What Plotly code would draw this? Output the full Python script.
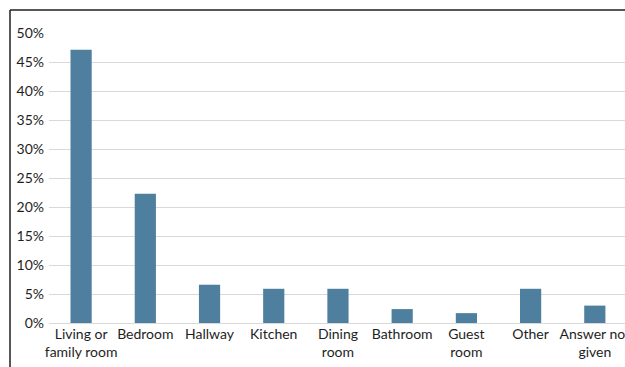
import plotly.graph_objects as go

# Where the TV is located in the home (share of respondents)
categories = [
    "Living or<br>family room",
    "Bedroom",
    "Hallway",
    "Kitchen",
    "Dining<br>room",
    "Bathroom",
    "Guest<br>room",
    "Other",
    "Answer not<br>given",
]
shares_pct = [47.1, 22.3, 6.6, 5.9, 5.9, 2.4, 1.7, 5.9, 3.0]
y_ticks_pct = [0, 5, 10, 15, 20, 25, 30, 35, 40, 45, 50]

W, H = 625, 367
M_L, M_R, M_T, M_B = 49, 0, 33, 44

fig = go.Figure(
    go.Bar(
        x=categories,
        y=[v / 100 for v in shares_pct],
        marker=dict(color="#4e7f9e", line=dict(width=0)),
        hoverinfo="skip",
    )
)

# outer frame of the chart area: left and top edges
plot_w = W - M_L - M_R
plot_h = H - M_T - M_B
fx0 = (10 - M_L) / plot_w
fy1 = (H - M_B - 10) / plot_h
frame = dict(color="#1f1f1f", width=1.5)
fig.add_shape(type="line", xref="paper", yref="paper",
              x0=fx0, x1=fx0, y0=-0.5, y1=fy1, line=frame, layer="above")
fig.add_shape(type="line", xref="paper", yref="paper",
              x0=fx0, x1=1.2, y0=fy1, y1=fy1, line=frame, layer="above")

font = dict(family="Lato, 'Open Sans', sans-serif", size=14, color="#1e1e1e")

fig.update_layout(
    width=W, height=H,
    margin=dict(l=M_L, r=M_R, t=M_T, b=M_B, pad=0),
    paper_bgcolor="white", plot_bgcolor="white",
    bargap=0.67,
    showlegend=False,
    font=font,
    xaxis=dict(
        type="category",
        range=[-0.5, 8.47],
        showgrid=False, zeroline=False, showline=False,
        ticks="", tickfont=font, fixedrange=True,
        tickangle=0, automargin=False,
        ticklabelstandoff=1,
    ),
    yaxis=dict(
        range=[0, 0.5],
        tickvals=[t / 100 for t in y_ticks_pct],
        ticktext=[f"{t}%" for t in y_ticks_pct],
        showgrid=True, gridcolor="#d9d9d9", gridwidth=1,
        zeroline=True, zerolinecolor="#d9d9d9", zerolinewidth=1,
        showline=False, ticks="", tickfont=font, fixedrange=True,
        automargin=False,
        ticklabelstandoff=4,
    ),
)

fig.write_html("out.html")
